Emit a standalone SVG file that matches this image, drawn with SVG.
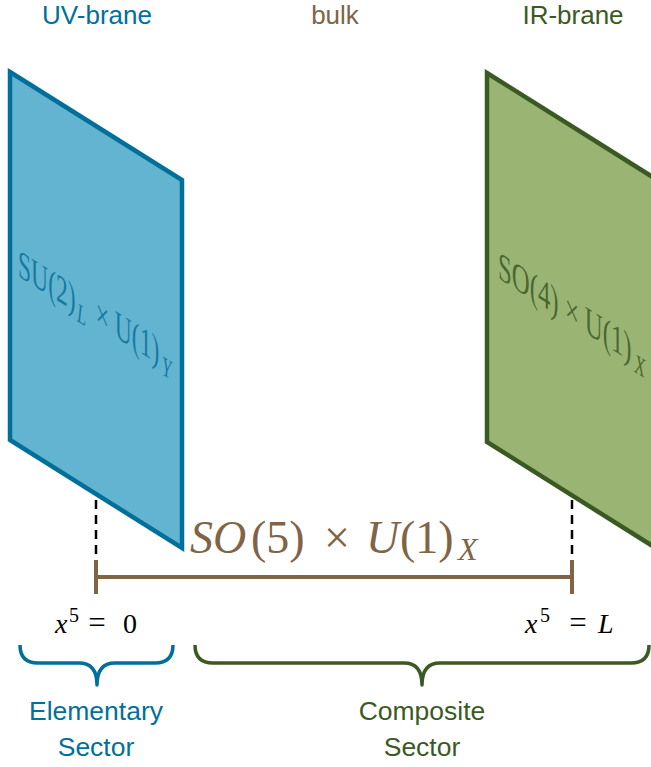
<svg xmlns="http://www.w3.org/2000/svg" width="651" height="767" viewBox="0 0 651 767">
<style>
.sans{font-family:"Liberation Sans","DejaVu Sans",sans-serif;font-size:26.5px;text-anchor:middle}
.top{font-size:26px}
.serif{font-family:"Liberation Serif","DejaVu Serif",serif}
.it{font-style:italic}
.blue{fill:#00709a}
.green{fill:#3b5a23}
.brown{fill:#7f6446}
.brace{fill:none;stroke-width:3.5;stroke-linejoin:round;stroke-linecap:butt}
</style>
<rect width="651" height="767" fill="#ffffff"/>
<g id="labels-top">
<text class="sans top blue" x="97" y="24">UV-brane</text>
<text class="sans top brown" x="335" y="24">bulk</text>
<text class="sans top green" x="573" y="24">IR-brane</text>
</g>
<g id="connectors">
<line x1="96" y1="500" x2="96" y2="560" stroke="#000" stroke-width="2.5" stroke-dasharray="9,6"/>
<line x1="572" y1="500" x2="572" y2="560" stroke="#000" stroke-width="2.5" stroke-dasharray="9,6"/>
<g stroke="#7f6446" stroke-width="4" fill="none">
<line x1="96" y1="577" x2="572" y2="577"/>
<line x1="96" y1="560" x2="96" y2="594"/>
<line x1="572" y1="560" x2="572" y2="594"/>
</g>
</g>
<g id="uv-brane">
<polygon points="10,72 182,180 182,548 10,440" fill="#62b4d0" stroke="#00709a" stroke-width="4.5"/>
<g transform="matrix(0.59,0.37,0,1,18,276)" class="serif" fill="#0b6f98" fill-opacity="0.85" font-size="40">
<text x="0" y="0">SU(2)</text>
<text x="100" y="8" font-size="28" class="it">L</text>
<text x="132" y="0">×</text>
<text x="164" y="0">U(1)</text>
<text x="244" y="8" font-size="28" class="it">Y</text>
</g>
</g>
<g id="ir-brane">
<polygon points="487,73 659,181 659,550 487,442" fill="#9ab474" stroke="#3b5a23" stroke-width="4.5"/>
<g transform="matrix(0.62,0.39,0,1,498,278)" class="serif" fill="#3b5a23" fill-opacity="0.85" font-size="40">
<text x="0" y="0">SO(4)</text>
<text x="108" y="0">×</text>
<text x="140" y="0">U(1)</text>
<text x="220" y="8" font-size="28" class="it">X</text>
</g>
</g>
<g id="bulk-group" class="serif brown" font-size="46">
<text x="190" y="553" class="it">SO</text>
<text x="251" y="553">(5)</text>
<text x="324" y="553">×</text>
<text x="366" y="553" class="it">U</text>
<text x="400" y="553">(1)</text>
<text x="458" y="560" font-size="32" class="it">X</text>
</g>
<g id="x0" class="serif" fill="#000" font-size="28">
<text x="55" y="633" class="it">x</text>
<text x="69" y="622" font-size="20">5</text>
<text x="97" y="633" text-anchor="middle" font-size="31">=</text>
<text x="130" y="633" text-anchor="middle">0</text>
</g>
<g id="xL" class="serif" fill="#000" font-size="28">
<text x="525" y="633" class="it">x</text>
<text x="540" y="622" font-size="20">5</text>
<text x="578" y="633" text-anchor="middle" font-size="31">=</text>
<text x="598" y="633" class="it">L</text>
</g>
<g id="elementary-sector">
<path class="brace" stroke="#00709a" d="M20,645 Q20,663 38,663 L79,663 Q97,663 97,685 Q97,663 115,663 L155,663 Q173,663 173,645"/>
<text class="sans blue" x="96" y="720">Elementary</text>
<text class="sans blue" x="96" y="756">Sector</text>
</g>
<g id="composite-sector">
<path class="brace" stroke="#3b5a23" d="M195,645 Q195,663 213,663 L404,663 Q422,663 422,685 Q422,663 440,663 L631,663 Q649,663 649,645"/>
<text class="sans green" x="422" y="720">Composite</text>
<text class="sans green" x="422" y="756">Sector</text>
</g>
</svg>
